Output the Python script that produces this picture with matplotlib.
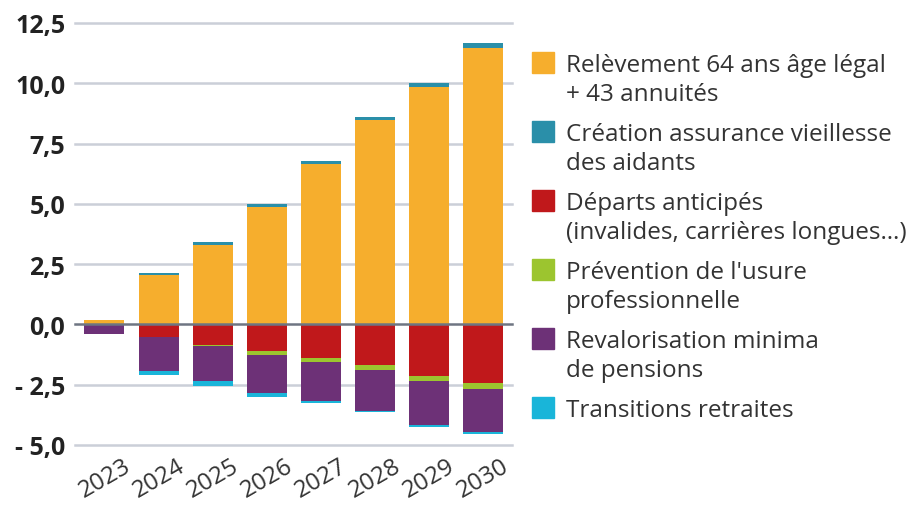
import numpy as np
import matplotlib.pyplot as plt
from matplotlib.patches import Rectangle

plt.rcParams['font.family'] = ['Open Sans', 'DejaVu Sans']

# data (Md€)
years = ['2023', '2024', '2025', '2026', '2027', '2028', '2029', '2030']
releve = [0.20, 2.05, 3.30, 4.85, 6.65, 8.48, 9.86, 11.47]
aidants = [0.00, 0.10, 0.12, 0.15, 0.13, 0.12, 0.14, 0.22]
departs = [0.00, -0.52, -0.85, -1.10, -1.40, -1.70, -2.12, -2.42]
prevention = [0.00, -0.02, -0.03, -0.15, -0.17, -0.17, -0.21, -0.24]
revalo = [-0.40, -1.40, -1.48, -1.60, -1.60, -1.70, -1.82, -1.80]
transitions = [0.00, -0.15, -0.18, -0.18, -0.08, -0.08, -0.11, -0.10]

labels = ['Relèvement 64 ans âge légal\n+ 43 annuités',
          'Création assurance vieillesse\ndes aidants',
          'Départs anticipés\n(invalides, carrières longues…)',
          "Prévention de l'usure\nprofessionnelle",
          'Revalorisation minima\nde pensions',
          'Transitions retraites']
colors = ['#f6ae2d', '#2a8fa9', '#c0181b', '#9cc52f', '#6d3177', '#19b5d9']

yticks = [-5.0, -2.5, 0.0, 2.5, 5.0, 7.5, 10.0, 12.5]
ytick_labels = ['- 5,0', '- 2,5', '0,0', '2,5', '5,0', '7,5', '10,0', '12,5']

fig = plt.figure(figsize=(9.14, 5.06), dpi=100)
ax = fig.add_axes([75/914, 60/506, 437/914, 422/506])

x = np.arange(len(years))
w = 0.74

# positive stack
ax.bar(x, releve, w, color=colors[0], zorder=3)
ax.bar(x, aidants, w, bottom=releve, color=colors[1], zorder=3)

# negative stack
bottom = np.zeros(len(years))
for vals, c in zip([departs, prevention, revalo, transitions], colors[2:]):
    ax.bar(x, vals, w, bottom=bottom, color=c, zorder=3)
    bottom = bottom + np.array(vals)

for t in yticks:
    col = '#6e7582' if t == 0 else '#cbcfd8'
    ax.axhline(t, color=col, lw=1.8, zorder=1 if t else 4, clip_on=False)

ax.set_xlim(-0.545, len(years) - 1 + 0.54)
ax.set_ylim(-5, 12.5)
ax.set_yticks(yticks)
ax.set_yticklabels(ytick_labels, fontsize=18, fontweight='bold', color='#222222')
ax.set_xticks(x)
ax.set_xticklabels(years, rotation=30, ha='center', fontsize=17.5, color='#333333')
ax.tick_params(length=0)
ax.tick_params(axis='y', pad=7)
ax.tick_params(axis='x', pad=6)
for s in ax.spines.values():
    s.set_visible(False)

# legend, drawn by hand
y0 = 63
for i, (lab, c) in enumerate(zip(labels, colors)):
    yc = y0 + i * 69
    fig.patches.append(Rectangle((532/914, 1 - (yc + 10.5)/506), 22/914, 21/506,
                                 transform=fig.transFigure, color=c))
    fig.text(566/914, 1 - (yc - 9)/506, lab, fontsize=17.5, color='#333333',
             va='top', ha='left', linespacing=1.3)

fig.savefig('out.png', dpi=100)
